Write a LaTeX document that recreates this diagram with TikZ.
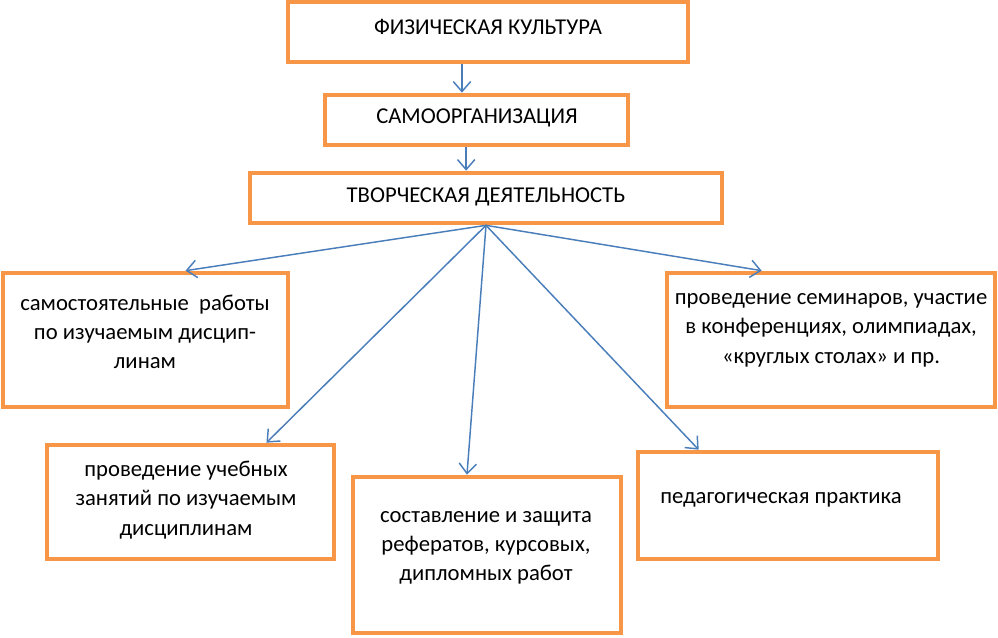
\documentclass[tikz,border=0pt]{standalone}
\usepackage{fontspec}
\setmainfont{Carlito}
\usetikzlibrary{arrows.meta}
\definecolor{boxorange}{RGB}{247,150,70}
\definecolor{arrblue}{RGB}{74,126,187}
\tikzset{
	box/.style={draw=boxorange, line width=3.5pt, fill=white, inner sep=0pt},
	txt/.style={inner sep=0pt, align=center, font=\fontsize{17}{22}\selectfont},
	arr/.style={draw=arrblue, line width=1.1pt, -{Straight Barb[length=7.5pt,width=13pt]}}
}
\begin{document}
\begin{tikzpicture}[x=0.75pt,y=0.75pt,yscale=-1,xscale=1]
		\useasboundingbox (0,0) rectangle (998,637);

		%Shape: Rectangle [fk]
		\node [box, minimum width=300pt, minimum height=45pt] (fk) at (488,32) {};
		%Shape: Rectangle [samorg]
		\node [box, minimum width=227.25pt, minimum height=37.5pt] (samorg) at (476.5,120) {};
		%Shape: Rectangle [tvor]
		\node [box, minimum width=354pt, minimum height=37.5pt] (tvor) at (486,198) {};
		%Shape: Rectangle [samrab]
		\node [box, minimum width=213.75pt, minimum height=100.5pt] (samrab) at (145.5,340) {};
		%Shape: Rectangle [seminar]
		\node [box, minimum width=246pt, minimum height=100.5pt] (seminar) at (831,340) {};
		%Shape: Rectangle [zanyat]
		\node [box, minimum width=215.25pt, minimum height=85.5pt] (zanyat) at (190.5,502) {};
		%Shape: Rectangle [referat]
		\node [box, minimum width=201pt, minimum height=117pt] (referat) at (487,555) {};
		%Shape: Rectangle [praktika]
		\node [box, minimum width=225pt, minimum height=80.25pt] (praktika) at (788,505.5) {};

		%Straight Lines
		\draw [arr] (samorg.118 |- fk.south) -- (samorg.118);
		\draw [arr] (tvor.126 |- samorg.south) -- (tvor.126);
		\draw [arr] (tvor.south) -- (samrab.60);
		\draw [arr] (tvor.south) -- (zanyat.38);
		\draw [arr] (tvor.south) -- (referat.104);
		\draw [arr] (tvor.south) -- (praktika.148);
		\draw [arr] (tvor.south) -- (seminar.135);

		% Text Node
		\node [txt] (t-fk) at (488,27) {ФИЗИЧЕСКАЯ КУЛЬТУРА};
		% Text Node
		\node [txt] (t-samorg) at (477,118) {САМООРГАНИЗАЦИЯ};
		% Text Node
		\node [txt] (t-tvor) at (486,197) {ТВОРЧЕСКАЯ ДЕЯТЕЛЬНОСТЬ};
		% Text Node
		\node [txt] (t-samrab) at (145,332) {самостоятельные\ \ работы\\по изучаемым дисцип-\\линам};
		% Text Node
		\node [txt] (t-seminar) at (831,330) {проведение семинаров, участие\\в конференциях, олимпиадах,\\«круглых столах» и пр.};
		% Text Node
		\node [txt] (t-zanyat) at (186,500) {проведение учебных\\занятий по изучаемым\\дисциплинам};
		% Text Node
		\node [txt] (t-referat) at (486,548) {составление и защита\\рефератов, курсовых,\\дипломных работ};
		% Text Node
		\node [txt] (t-praktika) at (781,500) {педагогическая практика};
\end{tikzpicture}
\end{document}
